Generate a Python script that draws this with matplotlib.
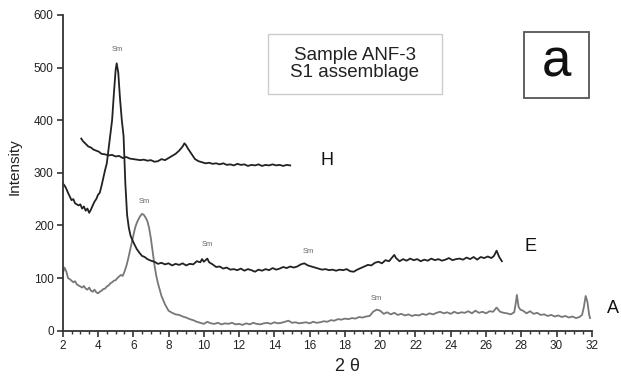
import matplotlib.pyplot as plt
from matplotlib.patches import Rectangle
from matplotlib.ticker import MultipleLocator

plt.rcParams['font.family'] = ['Liberation Sans', 'DejaVu Sans']

# --- data (2 theta, intensity) ---
E_x = [2.0, 2.1, 2.2, 2.3, 2.4, 2.5, 2.6, 2.7, 2.8, 2.9, 3.0, 3.1, 3.2, 3.3, 3.4, 3.5, 3.6, 3.7, 3.8, 3.9,
       4.0, 4.1, 4.2, 4.3, 4.4, 4.5, 4.6, 4.7, 4.8, 4.9, 5.0, 5.06, 5.15, 5.25, 5.35, 5.45, 5.55, 5.65, 5.75, 5.85,
       5.95, 6.05, 6.2, 6.35, 6.5, 6.65, 6.8, 7.0, 7.2, 7.4, 7.6, 7.8, 8.0, 8.2, 8.4, 8.6, 8.8, 9.0, 9.2, 9.4,
       9.6, 9.8, 9.9, 10.0, 10.1, 10.2, 10.3, 10.5, 10.7, 10.9, 11.1, 11.3, 11.5, 11.7, 11.9, 12.1, 12.3, 12.5, 12.7, 12.9,
       13.1, 13.3, 13.5, 13.7, 13.9, 14.1, 14.3, 14.5, 14.7, 14.9, 15.1, 15.3, 15.5, 15.7, 15.9, 16.1, 16.3, 16.5, 16.7, 16.9,
       17.1, 17.3, 17.5, 17.7, 17.9, 18.1, 18.3, 18.5, 18.7, 18.9, 19.1, 19.3, 19.5, 19.7, 19.9, 20.1, 20.3, 20.5, 20.7, 20.8,
       20.9, 21.1, 21.3, 21.5, 21.7, 21.9, 22.1, 22.3, 22.5, 22.7, 22.9, 23.1, 23.3, 23.5, 23.7, 23.9, 24.1, 24.3, 24.5, 24.7,
       24.9, 25.1, 25.3, 25.5, 25.7, 25.9, 26.1, 26.3, 26.45, 26.6, 26.75, 26.9]
E_y = [280, 276, 270, 262, 255, 248, 250, 242, 240, 238, 240, 232, 236, 228, 232, 224, 230, 238, 245, 250,
       258, 262, 275, 290, 305, 318, 345, 372, 400, 450, 495, 508, 490, 440, 400, 370, 280, 220, 195, 180,
       172, 165, 155, 148, 142, 140, 136, 133, 131, 127, 129, 126, 128, 124, 127, 125, 128, 124, 127, 126,
       132, 130, 136, 131, 134, 137, 130, 126, 121, 122, 118, 120, 116, 117, 115, 118, 114, 117, 115, 112,
       116, 114, 117, 115, 119, 116, 118, 121, 119, 122, 120, 122, 126, 128, 124, 122, 120, 118, 116, 117,
       115, 116, 114, 116, 115, 117, 113, 112, 116, 119, 122, 125, 124, 129, 131, 128, 134, 132, 140, 144,
       138, 132, 136, 133, 137, 134, 136, 132, 135, 133, 137, 134, 136, 133, 135, 138, 134, 136, 137, 135,
       139, 136, 140, 135, 140, 138, 141, 138, 142, 152, 140, 132]

A_x = [2.0, 2.1, 2.2, 2.3, 2.4, 2.5, 2.6, 2.7, 2.8, 2.9, 3.0, 3.1, 3.2, 3.3, 3.4, 3.5, 3.6, 3.7, 3.8, 3.9,
       4.0, 4.1, 4.2, 4.3, 4.4, 4.5, 4.6, 4.7, 4.8, 4.9, 5.0, 5.1, 5.2, 5.3, 5.4, 5.5, 5.6, 5.7, 5.8, 5.9,
       6.0, 6.1, 6.2, 6.3, 6.4, 6.5, 6.6, 6.7, 6.8, 6.9, 7.0, 7.1, 7.2, 7.3, 7.4, 7.5, 7.6, 7.7, 7.8, 7.9,
       8.0, 8.2, 8.4, 8.6, 8.8, 9.0, 9.2, 9.4, 9.6, 9.8, 10.0, 10.2, 10.4, 10.6, 10.8, 11.0, 11.2, 11.4, 11.6, 11.8,
       12.0, 12.2, 12.4, 12.6, 12.8, 13.0, 13.2, 13.4, 13.6, 13.8, 14.0, 14.2, 14.4, 14.6, 14.8, 15.0, 15.2, 15.4, 15.6, 15.8,
       16.0, 16.2, 16.4, 16.6, 16.8, 17.0, 17.2, 17.4, 17.6, 17.8, 18.0, 18.2, 18.4, 18.6, 18.8, 19.0, 19.2, 19.4, 19.6, 19.8,
       20.0, 20.2, 20.4, 20.6, 20.8, 21.0, 21.2, 21.4, 21.6, 21.8, 22.0, 22.2, 22.4, 22.6, 22.8, 23.0, 23.2, 23.4, 23.6, 23.8,
       24.0, 24.2, 24.4, 24.6, 24.8, 25.0, 25.2, 25.4, 25.6, 25.8, 26.0, 26.2, 26.4, 26.6, 26.8, 27.0, 27.2, 27.4, 27.6, 27.7,
       27.75, 27.85, 27.95, 28.1, 28.3, 28.5, 28.7, 28.9, 29.1, 29.3, 29.5, 29.7, 29.9, 30.1, 30.3, 30.5, 30.7, 30.9, 31.1, 31.3,
       31.45, 31.55, 31.65, 31.75, 31.85, 31.9]
A_y = [108, 120, 113, 100, 98, 95, 92, 94, 88, 86, 84, 82, 85, 80, 78, 82, 76, 74, 78, 73,
       71, 74, 76, 79, 80, 84, 86, 90, 92, 95, 96, 100, 103, 106, 104, 112, 122, 135, 150, 165,
       180, 195, 205, 212, 218, 222, 220, 215, 208, 195, 175, 150, 125, 105, 90, 78, 66, 58, 50, 44,
       38, 34, 31, 30, 27, 25, 22, 20, 17, 15, 13, 17, 14, 13, 15, 12, 14, 13, 15, 12,
       13, 11, 14, 12, 15, 13, 12, 14, 15, 13, 16, 14, 15, 17, 19, 15, 16, 14, 15, 16,
       14, 17, 15, 16, 18, 17, 20, 19, 22, 21, 23, 22, 24, 23, 26, 25, 27, 28, 36, 40,
       38, 32, 35, 31, 34, 30, 32, 29, 31, 28, 30, 29, 32, 30, 33, 31, 34, 36, 33, 35,
       32, 36, 33, 35, 34, 37, 33, 38, 34, 36, 33, 37, 36, 44, 36, 34, 33, 31, 35, 55,
       68, 45, 40, 38, 33, 37, 32, 34, 30, 31, 28, 30, 27, 29, 26, 28, 25, 27, 24, 26,
       30, 45, 66, 55, 30, 24]

H_x = [3.05, 3.15, 3.3, 3.45, 3.6, 3.75, 3.9, 4.05, 4.2, 4.4, 4.6, 4.8, 5.0, 5.2, 5.4, 5.6, 5.8, 6.0, 6.2, 6.4,
       6.6, 6.8, 7.0, 7.2, 7.4, 7.6, 7.8, 8.0, 8.2, 8.4, 8.6, 8.8, 8.9, 9.0, 9.1, 9.3, 9.5, 9.7, 9.9, 10.1,
       10.3, 10.5, 10.7, 10.9, 11.1, 11.3, 11.5, 11.7, 11.9, 12.1, 12.3, 12.5, 12.7, 12.9, 13.1, 13.3, 13.5, 13.7, 13.9, 14.1,
       14.3, 14.5, 14.7, 14.9]
H_y = [365, 360, 355, 350, 348, 344, 342, 340, 336, 335, 333, 334, 331, 332, 328, 330, 327, 326, 325, 324,
       325, 323, 324, 321, 322, 326, 324, 328, 332, 336, 342, 350, 356, 352, 346, 336, 326, 322, 320, 318,
       319, 317, 318, 316, 318, 315, 316, 314, 317, 315, 316, 313, 315, 314, 316, 313, 315, 314, 316, 314,
       315, 313, 315, 314]

sm_x = [5.1, 6.6, 10.2, 15.9, 19.8]
sm_y = [534, 245, 163, 150, 61]

curve_names = ['H', 'E', 'A']
name_x = [17.0, 28.5, 33.2]
name_y = [324, 160, 43]

fig = plt.figure(figsize=(6.21, 3.81), dpi=100)
ax = fig.add_axes([0.101, 0.132, 0.852, 0.829])

ax.plot(A_x, A_y, color='#777777', lw=1.3)
ax.plot(E_x, E_y, color='#222222', lw=1.3)
ax.plot(H_x, H_y, color='#222222', lw=1.3)

for x, y in zip(sm_x, sm_y):
    ax.text(x, y, 'Sm', fontsize=5.5, color='#666666', ha='center', va='center')

for name, x, y in zip(curve_names, name_x, name_y):
    ax.text(x, y, name, fontsize=13, color='#111111', ha='center', va='center', clip_on=False)

ax.set_xlim(2, 32)
ax.set_ylim(0, 600)
ax.xaxis.set_major_locator(MultipleLocator(2))
ax.xaxis.set_minor_locator(MultipleLocator(0.5))
ax.yaxis.set_major_locator(MultipleLocator(100))

for side in ['top', 'right']:
    ax.spines[side].set_visible(False)
for side in ['left', 'bottom']:
    ax.spines[side].set_linewidth(1.3)
    ax.spines[side].set_color('#333333')

ax.tick_params(which='major', direction='out', length=4, width=1.2, color='#333333',
               labelsize=8.5, labelcolor='#222222', pad=2.5)
ax.tick_params(which='minor', direction='out', length=2.5, width=1.0, color='#333333')

ax.set_ylabel('Intensity', fontsize=11, color='#222222')
ax.yaxis.set_label_coords(-0.078, 0.52)
ax.set_xlabel('2 θ', fontsize=13, color='#222222')
ax.xaxis.set_label_coords(0.539, -0.085)

# sample caption box and panel letter
fig.add_artist(Rectangle((0.4316, 0.7533), 0.280, 0.1575, transform=fig.transFigure,
                         fill=False, edgecolor='#cccccc', lw=1.0))
fig.text(0.5716, 0.832, 'Sample ANF-3\nS1 assemblage', fontsize=13.5, ha='center', va='center',
         color='#222222', linespacing=1.05)
fig.add_artist(Rectangle((0.8438, 0.7428), 0.1047, 0.1732, transform=fig.transFigure,
                         fill=False, edgecolor='#555555', lw=1.3))
fig.text(0.8955, 0.836, 'a', fontsize=38, ha='center', va='center', color='#111111')

fig.savefig('out.png', dpi=100)
